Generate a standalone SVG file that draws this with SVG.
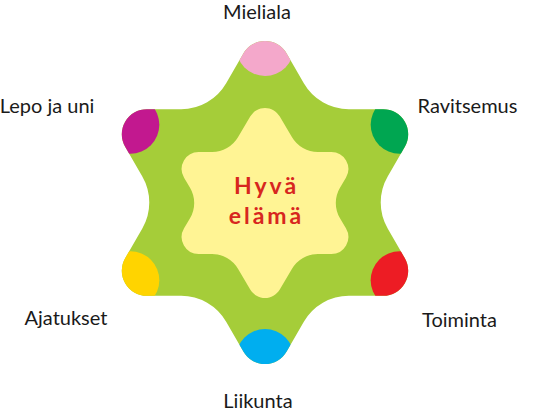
<svg xmlns="http://www.w3.org/2000/svg" width="538" height="414" viewBox="0 0 538 414">
<style>
.lbl{font-family:Lato,"Open Sans","Liberation Sans",sans-serif;font-size:20px;fill:#1a1a1a;text-anchor:middle}
.title{font-family:Lato,"Open Sans","Liberation Sans",sans-serif;font-size:23px;font-weight:bold;fill:#d7261e;text-anchor:middle;letter-spacing:3px}
</style>
<defs>
<path id="star" d="M 243.35 53.5 A 25 25 0 0 1 286.65 53.5 L 303.83 83.25 A 52 52 0 0 0 348.86 109.25 L 383.21 109.25 A 25 25 0 0 1 404.86 146.75 L 387.69 176.5 A 52 52 0 0 0 387.69 228.5 L 404.86 258.25 A 25 25 0 0 1 383.21 295.75 L 348.86 295.75 A 52 52 0 0 0 303.83 321.75 L 286.65 351.5 A 25 25 0 0 1 243.35 351.5 L 226.17 321.75 A 52 52 0 0 0 181.14 295.75 L 146.79 295.75 A 25 25 0 0 1 125.14 258.25 L 142.31 228.5 A 52 52 0 0 0 142.31 176.5 L 125.14 146.75 A 25 25 0 0 1 146.79 109.25 L 181.14 109.25 A 52 52 0 0 0 226.17 83.25 Z"/>
<clipPath id="clip"><use href="#star"/></clipPath>
</defs>
<rect width="538" height="414" fill="#ffffff"/>
<g id="star-outer">
<use href="#star" fill="#a5cd39"/>
</g>
<g id="center">
<path d="M 250.37 116.34 A 17 17 0 0 1 279.63 116.34 L 292.03 137.29 A 30 30 0 0 0 317.84 152 L 331.3 152 A 17 17 0 0 1 345.93 177.66 L 339.98 187.72 A 30 30 0 0 0 339.98 218.28 L 345.93 228.34 A 17 17 0 0 1 331.3 254 L 317.84 254 A 30 30 0 0 0 292.03 268.71 L 279.63 289.66 A 17 17 0 0 1 250.37 289.66 L 237.97 268.71 A 30 30 0 0 0 212.16 254 L 198.7 254 A 17 17 0 0 1 184.07 228.34 L 190.02 218.28 A 30 30 0 0 0 190.02 187.72 L 184.07 177.66 A 17 17 0 0 1 198.7 152 L 212.16 152 A 30 30 0 0 0 237.97 137.29 Z" fill="#fff494"/>
<text class="title" x="266.5" y="194">Hyvä</text>
<text class="title" x="266.5" y="224">elämä</text>
</g>
<g id="mieliala">
<circle cx="265" cy="47" r="29" fill="#f4a8cb" clip-path="url(#clip)"/>
<text class="lbl" x="257" y="19">Mieliala</text>
</g>
<g id="ravitsemus">
<circle cx="399.67" cy="124.75" r="29" fill="#00a651" clip-path="url(#clip)"/>
<text class="lbl" x="467.5" y="113">Ravitsemus</text>
</g>
<g id="toiminta">
<circle cx="399.67" cy="280.25" r="29" fill="#ed1c24" clip-path="url(#clip)"/>
<text class="lbl" x="459.5" y="327">Toiminta</text>
</g>
<g id="liikunta">
<circle cx="265" cy="358" r="29" fill="#00aeef" clip-path="url(#clip)"/>
<text class="lbl" x="258" y="408">Liikunta</text>
</g>
<g id="ajatukset">
<circle cx="130.33" cy="280.25" r="29" fill="#ffd400" clip-path="url(#clip)"/>
<text class="lbl" x="66" y="325">Ajatukset</text>
</g>
<g id="lepo">
<circle cx="130.33" cy="124.75" r="29" fill="#c2188f" clip-path="url(#clip)"/>
<text class="lbl" x="47" y="113">Lepo ja uni</text>
</g>
</svg>
